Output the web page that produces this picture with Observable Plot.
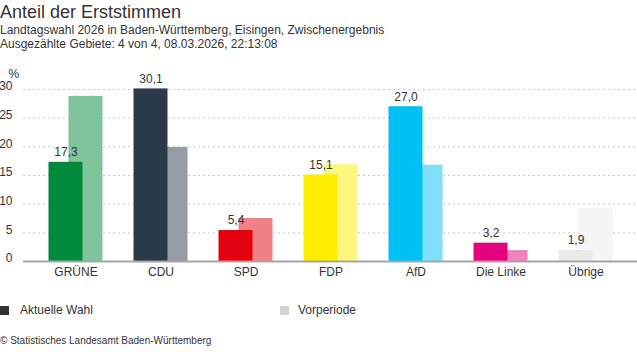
<!DOCTYPE html>
<html>
<head>
<meta charset="utf-8">
<script src="https://cdn.jsdelivr.net/npm/d3@7"></script>
<script src="https://cdn.jsdelivr.net/npm/@observablehq/plot@0.6"></script>
<style>
  body { margin: 0; width: 637px; height: 352px; position: relative; background: #fff; font-family: "Liberation Sans", Arial, sans-serif; color: #333; overflow: hidden; }
  .abs { position: absolute; white-space: nowrap; }
  #title { left: 0; top: 1px; font-size: 18px; line-height: 22px; }
  #sub { left: 0; top: 23px; font-size: 12px; line-height: 14px; }
  #chart { left: 0; top: 55px; }
  .sw { display: inline-block; width: 9px; height: 9px; position: absolute; }
  .lg { font-size: 12px; line-height: 14px; }
  #foot { left: 0; top: 335px; font-size: 10px; line-height: 12px; }
</style>
</head>
<body>
<div id="title" class="abs">Anteil der Erststimmen</div>
<div id="sub" class="abs">Landtagswahl 2026 in Baden-Württemberg, Eisingen, Zwischenergebnis<br>Ausgezählte Gebiete: 4 von 4, 08.03.2026, 22:13:08</div>
<div id="chart" class="abs"></div>
<div class="abs" style="left:0;top:306px;"><span class="sw" style="left:0;top:0;background:#333;"></span></div>
<div class="abs lg" style="left:20px;top:303px;">Aktuelle Wahl</div>
<div class="abs" style="left:280px;top:306px;"><span class="sw" style="left:0;top:0;background:#d3d3d3;"></span></div>
<div class="abs lg" style="left:298px;top:303px;">Vorperiode</div>
<div id="foot" class="abs">© Statistisches Landesamt Baden-Württemberg</div>
<script>
const parties = ["GRÜNE", "CDU", "SPD", "FDP", "AfD", "Die Linke", "Übrige"];
const currentValues = [17.3, 30.1, 5.4, 15.1, 27.0, 3.2, 1.9];
const previousValues = [28.8, 19.9, 7.5, 16.9, 16.8, 1.9, 9.2];
const currentColors = ["#008a3b", "#2b3a48", "#e3000f", "#ffed00", "#00c1f3", "#e5007d", "#ebebeb"];
const previousColors = ["#80c49d", "#959ca3", "#f18087", "#fff680", "#80e0f9", "#f280be", "#f5f5f5"];
const yTicks = [0, 5, 10, 15, 20, 25, 30];

const data = parties.map((p, i) => ({
  party: p,
  cur: currentValues[i],
  prev: previousValues[i],
  curColor: currentColors[i],
  prevColor: previousColors[i]
}));

const chart = Plot.plot({
  width: 637,
  height: 235,
  marginLeft: 23,
  marginRight: 0,
  marginTop: 34,
  marginBottom: 29,
  style: { fontFamily: "Liberation Sans, Arial, sans-serif", fontSize: "12px", color: "#333", background: "transparent" },
  x: { type: "band", domain: parties, range: [32.5, 627.5], padding: 0 },
  y: { domain: [0, 30] },
  color: { type: "identity" },
  marks: [
    Plot.gridY({ ticks: yTicks.filter(t => t > 0), stroke: "#c8c8c8", strokeOpacity: 1, strokeDasharray: "2,3" }),
    Plot.barY(data, { x: "party", y: "prev", fill: "prevColor", insetLeft: 35.5, insetRight: 15.5 }),
    Plot.barY(data, { x: "party", y: "cur", fill: "curColor", insetLeft: 15.5, insetRight: 35.5 }),
    Plot.ruleY([0], { stroke: "#a6a6a6", strokeWidth: 2 }),
    Plot.text(data, { x: "party", y: "cur", text: d => d.cur.toFixed(1).replace(".", ","), dx: -10, dy: -10, fill: "#333", fontSize: 12 }),
    Plot.axisY({ ticks: yTicks, tickSize: 0, tickPadding: 11, dy: -3, label: null, fontSize: 12 }),
    Plot.axisX({ tickSize: 0, tickPadding: 6, label: null, fontSize: 12 }),
    Plot.text(["%"], { frameAnchor: "top-left", dx: -15, dy: -20, fill: "#333", fontSize: 12 })
  ]
});
document.getElementById("chart").appendChild(chart);
</script>
</body>
</html>
